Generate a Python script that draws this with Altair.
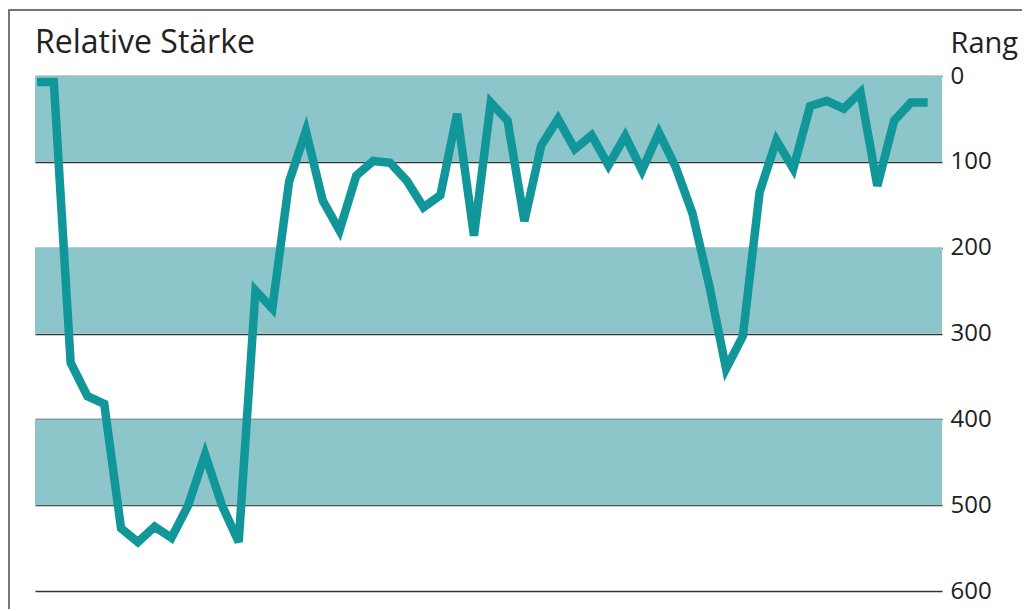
import altair as alt
import pandas as pd

# Relative strength rank, one value per period (lower = stronger)
rank = [7, 7, 334, 373, 382, 527, 543, 525, 538, 500,
        441, 500, 543, 250, 271, 123, 64, 145, 180, 116,
        99, 101, 122, 153, 139, 44, 186, 31, 52, 169,
        81, 50, 85, 69, 104, 70, 110, 66, 106, 160,
        244, 341, 303, 135, 75, 108, 35, 29, 38, 19,
        128, 52, 31, 31]
period = list(range(len(rank)))

band_start = [0, 200, 400]
band_end = [100, 300, 500]
tick_values = [0, 100, 200, 300, 400, 500, 600]
chart_title = ["Relative Stärke"]

line_df = pd.DataFrame({"period": period, "rank": rank})
band_df = pd.DataFrame({"y0": band_start, "y1": band_end})
title_df = pd.DataFrame({"t": chart_title})

W, H = 907, 515
FONT = "Open Sans"
LINE_COLOR = "#11979A"
BAND_COLOR = "#8CC6CB"

xscale = alt.Scale(domain=[-0.12, 53.85], nice=False, zero=False)
yscale = alt.Scale(domain=[0, 600], reverse=True, nice=False, zero=False)

frame = alt.Chart(pd.DataFrame({"a": [0]})).mark_rect(
    fillOpacity=0, stroke="#4a4a4a", strokeWidth=1.5, clip=False
).encode(
    x=alt.value(-26), x2=alt.value(1200),
    y=alt.value(-66), y2=alt.value(800),
)

title = alt.Chart(title_df).mark_text(
    font=FONT, fontSize=32, color="#222222", align="left",
    baseline="alphabetic", clip=False
).encode(
    text="t:N", x=alt.value(0), y=alt.value(-23),
)

bands = alt.Chart(band_df).mark_rect(color=BAND_COLOR).encode(
    y=alt.Y("y0:Q", scale=yscale,
            axis=alt.Axis(
                orient="right", values=tick_values, grid=True,
                gridColor="#333333", gridWidth=1.6, gridOpacity=1,
                ticks=False, domain=False,
                labelFont=FONT, labelFontSize=24, labelColor="#222222",
                labelAlign="left", labelBaseline="middle", labelPadding=8,
                title="Rang", titleFont=FONT, titleFontSize=29,
                titleFontWeight="normal", titleColor="#222222",
                titleAngle=0, titleAlign="left", titleBaseline="alphabetic",
                titleX=8, titleY=-24,
            )),
    y2="y1:Q",
)

line = alt.Chart(line_df).mark_line(
    color=LINE_COLOR, strokeWidth=8.5, strokeCap="butt", strokeJoin="miter"
).encode(
    x=alt.X("period:Q", scale=xscale, axis=None),
    y=alt.Y("rank:Q", scale=yscale),
)

chart = alt.layer(frame, bands, line, title).properties(
    width=W, height=H,
    autosize=alt.AutoSizeParams(type="none"),
    padding={"left": 27, "top": 68, "right": 80, "bottom": 18},
).configure_view(stroke=None)

chart.save("out.html", embed_options={"renderer": "svg", "actions": False})
